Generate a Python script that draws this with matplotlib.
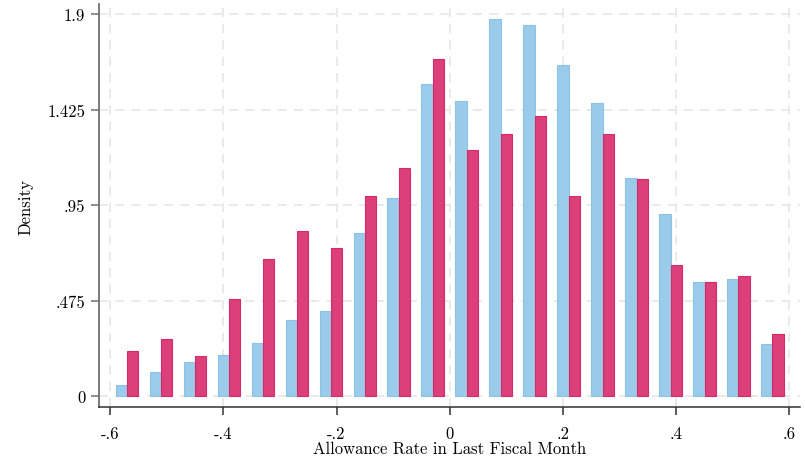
import matplotlib
matplotlib.use("Agg")
import matplotlib.pyplot as plt
import numpy as np

plt.rcParams["font.family"] = ["cmr10", "DejaVu Serif"]
plt.rcParams["axes.formatter.use_mathtext"] = True

# histogram bins: width .06 from -.6 to .6, bin centres below
bin_centers = [-0.57, -0.51, -0.45, -0.39, -0.33, -0.27, -0.21, -0.15, -0.09, -0.03,
               0.03, 0.09, 0.15, 0.21, 0.27, 0.33, 0.39, 0.45, 0.51, 0.57]
density_blue = [0.056, 0.122, 0.169, 0.205, 0.265, 0.381, 0.422, 0.813, 0.987, 1.551,
                1.468, 1.874, 1.846, 1.647, 1.460, 1.086, 0.906, 0.568, 0.581, 0.260]
density_red = [0.225, 0.283, 0.199, 0.482, 0.682, 0.823, 0.737, 0.994, 1.136, 1.677,
               1.222, 1.306, 1.392, 0.994, 1.306, 1.078, 0.652, 0.568, 0.596, 0.311]

x_ticks = [-0.6, -0.4, -0.2, 0, 0.2, 0.4, 0.6]
x_tick_labels = ["-.6", "-.4", "-.2", "0", ".2", ".4", ".6"]
y_ticks = [0, 0.475, 0.95, 1.425, 1.9]
y_tick_labels = ["0", ".475", ".95", "1.425", "1.9"]

fig = plt.figure(figsize=(8.05, 4.64), dpi=100)
ax = fig.add_axes([0.123, 0.120, 0.871, 0.869])

x = np.array(bin_centers)
w = 0.02
ax.bar(x - w / 2, density_blue, width=w, color="#9bcbeb", edgecolor="#8ec3e8",
       linewidth=0.8, zorder=3)
ax.bar(x + w / 2, density_red, width=w, color="#db407a", edgecolor="#d62a68",
       linewidth=0.8, zorder=3)

ax.set_xlim(-0.6196, 0.619)
ax.set_ylim(-0.0546, 1.949)
ax.set_xticks(x_ticks)
ax.set_xticklabels(x_tick_labels)
ax.set_yticks(y_ticks)
ax.set_yticklabels(y_tick_labels)

ax.grid(True, color="#e8e8e8", linestyle=(0, (5, 4)), linewidth=1.3, zorder=0)
for side in ("top", "right"):
    ax.spines[side].set_visible(False)
ax.spines["left"].set_color("#707070")
ax.spines["left"].set_linewidth(1.3)
ax.spines["bottom"].set_color("#303030")
ax.spines["bottom"].set_linewidth(1.1)
ax.tick_params(axis="x", length=6, width=1.1, color="#303030", pad=7, labelsize=12)
ax.tick_params(axis="y", length=6, width=1.1, color="#707070", pad=4, labelsize=12)

ax.set_xlabel("Allowance Rate in Last Fiscal Month", fontsize=12, labelpad=0)
ax.set_ylabel("Density", fontsize=12, labelpad=10)

fig.savefig("out.png", dpi=100)
